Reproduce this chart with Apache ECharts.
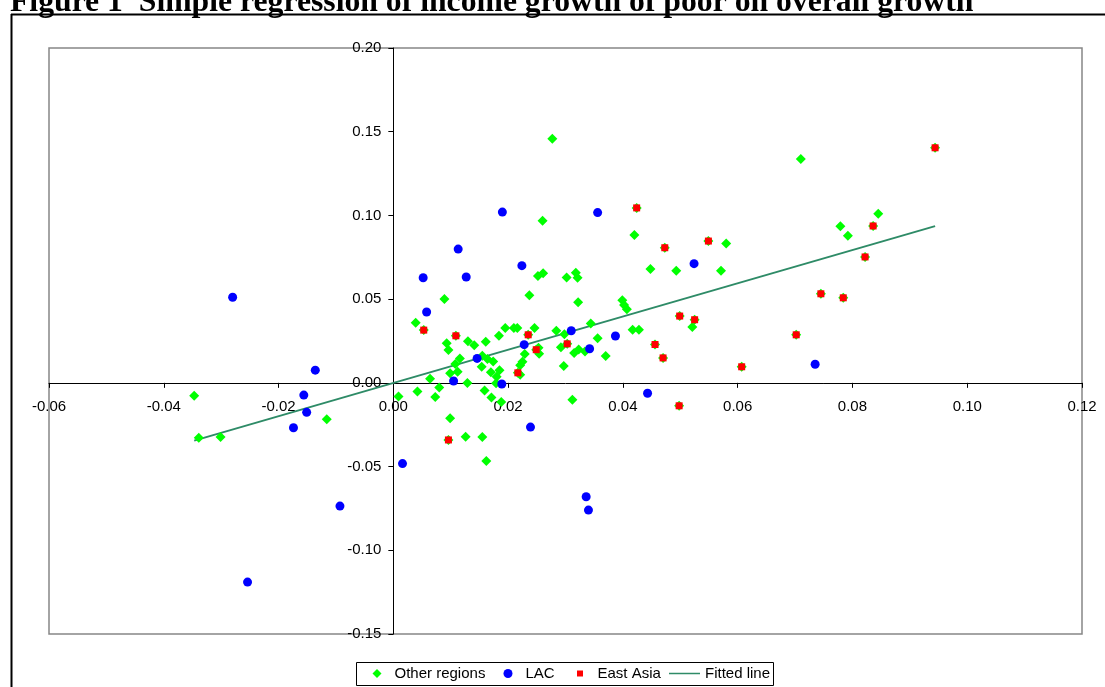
<!DOCTYPE html>
<html>
<head>
<meta charset="utf-8">
<script src="https://cdn.jsdelivr.net/npm/echarts@6/dist/echarts.min.js"></script>
<style>
	html, body { margin: 0; padding: 0; background: #fff; }
	#show { width: 1105px; height: 687px; }
</style>
</head>
<body>
<div id="show"></div>
<script>
	// data: [overall growth, growth of the poor]
	var otherRegions = [
		[-0.0347,-0.0077],[-0.0339,-0.0328],[-0.0301,-0.0324],[-0.0116,-0.0218],
		[0.0009,-0.0082],[0.0039,0.0359],[0.0042,-0.0052],[0.0064,0.0024],[0.0073,-0.0085],[0.0080,-0.0027],
		[0.0089,0.0501],[0.0093,0.0236],[0.0096,0.0196],[0.0099,0.0057],[0.0099,-0.0212],[0.0108,0.0112],
		[0.0112,0.0066],[0.0116,0.0146],[0.0126,-0.0322],[0.0129,-0.0001],[0.0130,0.0248],[0.0141,0.0224],
		[0.0155,0.0162],[0.0154,0.0096],[0.0155,-0.0324],[0.0159,-0.0045],[0.0161,0.0246],[0.0162,-0.0467],
		[0.0164,0.0142],[0.0171,-0.0087],[0.0170,0.0063],[0.0174,0.0128],[0.0180,0.0036],[0.0185,0.0075],
		[0.0179,-0.0003],[0.0184,0.0281],[0.0188,-0.0115],[0.0195,0.0327],[0.0210,0.0327],[0.0216,0.0327],
		[0.0221,0.0105],[0.0221,0.0048],[0.0225,0.0126],[0.0229,0.0172],[0.0237,0.0523],[0.0246,0.0327],
		[0.0252,0.0638],[0.0253,0.0210],[0.0254,0.0174],[0.0260,0.0968],[0.0261,0.0654],[0.0277,0.1458],
		[0.0284,0.0311],[0.0292,0.0212],[0.0297,0.0100],[0.0298,0.0290],[0.0302,0.0629],[0.0312,-0.0101],
		[0.0315,0.0178],[0.0318,0.0657],[0.0321,0.0628],[0.0322,0.0482],[0.0323,0.0199],[0.0334,0.0187],
		[0.0344,0.0354],[0.0356,0.0266],[0.0370,0.0161],[0.0399,0.0493],[0.0402,0.0465],[0.0407,0.0439],
		[0.0417,0.0317],[0.0428,0.0317],[0.0420,0.0883],[0.0448,0.0680],[0.0493,0.0669],[0.0521,0.0333],
		[0.0571,0.0670],[0.0580,0.0833],[0.0710,0.1337],[0.0779,0.0935],[0.0792,0.0878],[0.0845,0.1010]
	];

	var lac = [
		[-0.0280,0.0511],[-0.0136,0.0076],[-0.0156,-0.0073],[-0.0151,-0.0176],[-0.0174,-0.0268],
		[-0.0093,-0.0736],[-0.0254,-0.1190],[0.0016,-0.0482],[0.0052,0.0628],[0.0058,0.0423],
		[0.0113,0.0799],[0.0127,0.0632],[0.0105,0.0011],[0.0146,0.0146],[0.0190,0.1020],
		[0.0189,-0.0007],[0.0224,0.0700],[0.0228,0.0228],[0.0239,-0.0264],[0.0310,0.0311],
		[0.0342,0.0204],[0.0356,0.1017],[0.0387,0.0280],[0.0443,-0.0062],[0.0524,0.0712],
		[0.0735,0.0111],[0.0336,-0.0680],[0.0340,-0.0760]
	];

	// East Asia points sit on top of green diamonds
	var eastAsia = [
		[0.0053,0.0315],[0.0096,-0.0341],[0.0109,0.0281],[0.0217,0.0060],[0.0235,0.0287],
		[0.0249,0.0198],[0.0303,0.0233],[0.0424,0.1045],[0.0456,0.0229],[0.0470,0.0149],
		[0.0473,0.0807],[0.0498,-0.0137],[0.0499,0.0399],[0.0525,0.0377],[0.0549,0.0847],
		[0.0607,0.0096],[0.0702,0.0287],[0.0745,0.0532],[0.0784,0.0508],[0.0822,0.0752],
		[0.0836,0.0937],[0.0944,0.1404]
	];

	// fitted line end points
	var fittedLine = [[-0.0347,-0.0345],[0.0944,0.0936]];

	var legendNames = ['Other regions', 'LAC', 'East Asia', 'Fitted line'];
	var titleText = 'Figure 1  Simple regression of income growth of poor on overall growth';

	// axis ranges
	var xMin = -0.06, xMax = 0.12, xStep = 0.02;
	var yMin = -0.15, yMax = 0.20, yStep = 0.05;

	var gridLeft = 49, gridRight = 23, gridTop = 48, gridBottom = 53;
	var W = 1105, H = 687;
	var gridW = W - gridLeft - gridRight;
	var gridH = H - gridTop - gridBottom;

	// move the axes so they cross at zero (labels and ticks go with them)
	var yAxisOffset = -gridW * (0 - xMin) / (xMax - xMin);
	var xAxisOffset = -gridH * (0 - yMin) / (yMax - yMin);

	var myEchart = echarts.init(document.getElementById('show'), null, {renderer: 'canvas'});

	var labelFmt = function (v) {
		return v.toFixed(2);
	};

	var font = 'Liberation Sans, Arial, sans-serif';

	// one legend per entry so each sits where the original has it
	function legendItem(name, left, icon, w, pad) {
		return {
			left: left,
			top: 666,
			padding: 0,
			itemGap: 0,
			itemWidth: w,
			itemHeight: 9,
			data: [{ name: name, icon: icon }],
			textStyle: { color: '#000', fontSize: 15, fontFamily: font, padding: [0, 0, 0, pad] }
		};
	}

	var option = {
		animation: false,
		backgroundColor: '#fff',
		textStyle: { fontFamily: font },
		grid: {
			left: gridLeft,
			right: gridRight,
			top: gridTop,
			bottom: gridBottom,
			show: true,
			borderColor: '#868686',
			borderWidth: 1.5,
			backgroundColor: '#fff'
		},
		legend: [
			legendItem(legendNames[0], 372.5, 'path://M4,0L8,4L4,8L0,4Z', 9, 8),
			legendItem(legendNames[1], 503.5, 'circle', 9, 8),
			legendItem(legendNames[2], 575.5, 'path://M0,0M9,9M1.5,1.5H7.5V7.5H1.5Z', 9, 8),
			legendItem(legendNames[3], 669, 'path://M0,0H31V1.5H0Z', 31, 0)
		],
		xAxis: {
			type: 'value',
			min: xMin,
			max: xMax,
			interval: xStep,
			offset: xAxisOffset,
			axisLine: { onZero: false, lineStyle: { color: '#000', width: 1 } },
			axisTick: { show: true, length: 5, lineStyle: { color: '#000' } },
			axisLabel: { color: '#000', fontSize: 15, margin: 17, formatter: labelFmt, showMinLabel: true, showMaxLabel: true },
			splitLine: { show: false }
		},
		yAxis: {
			type: 'value',
			min: yMin,
			max: yMax,
			interval: yStep,
			offset: yAxisOffset,
			axisLine: { onZero: false, lineStyle: { color: '#000', width: 1 } },
			axisTick: { show: true, length: 5, lineStyle: { color: '#000' } },
			axisLabel: { color: '#000', fontSize: 15, margin: 12, formatter: labelFmt, showMinLabel: true, showMaxLabel: true },
			splitLine: { show: false }
		},
		graphic: [
			{
				type: 'text',
				left: 10,
				top: -13,
				z: 0,
				style: {
					text: titleText,
					fill: '#000',
					font: 'bold 31.7px "Liberation Serif", "Times New Roman", serif'
				}
			},
			{
				type: 'line',
				shape: { x1: 11, y1: 14.5, x2: W, y2: 14.5 },
				style: { stroke: '#000', lineWidth: 2 },
				z: 10
			},
			{
				type: 'line',
				shape: { x1: 11.5, y1: 14, x2: 11.5, y2: H },
				style: { stroke: '#000', lineWidth: 2 },
				z: 10
			},
			// legend frame
			{
				type: 'rect',
				shape: { x: 356.5, y: 662.5, width: 417, height: 23 },
				style: { fill: 'none', stroke: '#000', lineWidth: 1 },
				z: 10
			}
		],
		series: [
			{
				name: legendNames[0],
				type: 'scatter',
				symbol: 'diamond',
				symbolSize: 10,
				itemStyle: { color: '#00ff00', opacity: 1 },
				data: otherRegions.concat(eastAsia),
				z: 3
			},
			{
				name: legendNames[1],
				type: 'scatter',
				symbol: 'circle',
				symbolSize: 9,
				itemStyle: { color: '#0000ff', opacity: 1 },
				data: lac,
				z: 4
			},
			{
				name: legendNames[2],
				type: 'scatter',
				symbol: 'rect',
				symbolSize: 7,
				itemStyle: { color: '#ff0000', opacity: 1 },
				data: eastAsia,
				z: 5
			},
			{
				name: legendNames[3],
				type: 'line',
				data: fittedLine,
				showSymbol: false,
				symbol: 'none',
				lineStyle: { color: '#2e8b67', width: 2 },
				itemStyle: { color: '#2e8b67' },
				z: 2
			}
		]
	};

	myEchart.setOption(option);
</script>
</body>
</html>
